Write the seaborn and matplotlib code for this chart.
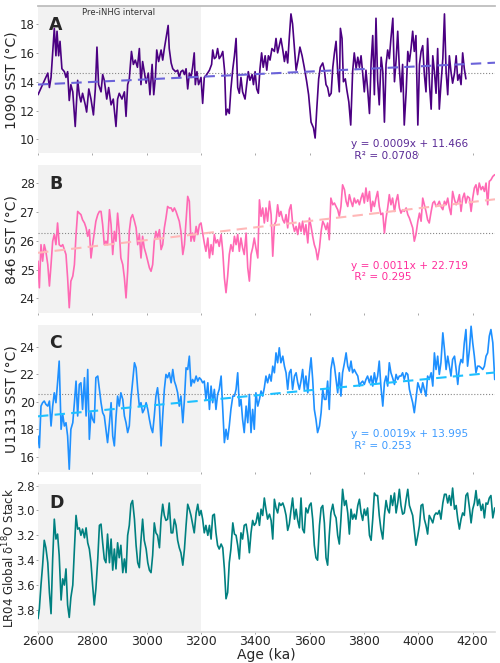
import numpy as np
import pandas as pd
import seaborn as sns
from matplotlib import pyplot as plt

# ========================================================
# values

# ODP 1090 SST, irregular sampling
age_1090 = [
    2600, 2636, 2642, 2648, 2660, 2666, 2670, 2676, 2681, 2688,
    2697, 2703, 2709, 2715, 2721, 2728, 2737, 2746, 2752, 2758,
    2764, 2774, 2779, 2787, 2795, 2804, 2811, 2817, 2823, 2832,
    2838, 2844, 2853, 2860, 2869, 2877, 2887, 2893, 2899, 2909,
    2918, 2924, 2930, 2936, 2944, 2951, 2958, 2966, 2973, 2979,
    2985, 2991, 2998, 3006, 3012, 3020, 3026, 3032, 3037, 3044,
    3053, 3059, 3065, 3071, 3079, 3083, 3090, 3096, 3106, 3114,
    3120, 3126, 3133, 3139, 3145, 3151, 3157, 3163, 3169, 3175,
    3179, 3185, 3191, 3200, 3206, 3212, 3221, 3231, 3239, 3243,
    3249, 3255, 3261, 3267, 3274, 3280, 3287, 3292, 3298, 3304,
    3310, 3317, 3323, 3329, 3335, 3341, 3347, 3353, 3362, 3368,
    3374, 3380, 3388, 3393, 3399, 3405, 3411, 3417, 3423, 3429,
    3436, 3442, 3448, 3454, 3461, 3470, 3476, 3482, 3488, 3494,
    3501, 3507, 3513, 3519, 3525, 3531, 3537, 3544, 3550, 3557,
    3564, 3572, 3580, 3589, 3596, 3605, 3614, 3620, 3626, 3633,
    3639, 3648, 3654, 3660, 3666, 3672, 3679, 3685, 3691, 3697,
    3703, 3709, 3713, 3719, 3724, 3731, 3737, 3744, 3751, 3758,
    3764, 3771, 3777, 3783, 3789, 3795, 3801, 3807, 3814, 3820,
    3826, 3832, 3838, 3844, 3850, 3856, 3863, 3869, 3875, 3881,
    3887, 3893, 3899, 3906, 3912, 3918, 3924, 3930, 3936, 3942,
    3948, 3955, 3961, 3967, 3973, 3979, 3985, 3991, 3998, 4004,
    4010, 4016, 4022, 4028, 4034, 4041, 4047, 4053, 4059, 4065,
    4071, 4077, 4083, 4090, 4096, 4102, 4108, 4114, 4120, 4126,
    4133, 4139, 4145, 4151, 4157, 4163, 4169, 4175,
]
sst_1090 = [
    13.1, 14.6, 13.6, 14.3, 17.7, 15.8, 17.5, 15.8, 16.8, 14.9,
    14.7, 14.3, 14.7, 12.7, 13.8, 13.3, 10.9, 14.1, 13.1, 12.6,
    13.2, 12.4, 11.9, 13.5, 12.8, 11.7, 13.5, 16.4, 13.8, 13.3,
    14.5, 14.1, 12.8, 13.6, 12.4, 12.8, 10.9, 12.8, 13.2, 12.8,
    13.3, 11.6, 13.8, 14.2, 16.1, 15.2, 15.5, 15.0, 16.3, 13.8,
    15.4, 14.7, 13.9, 14.6, 13.1, 15.2, 13.1, 14.3, 16.2, 15.4,
    16.2, 15.5, 16.3, 17.0, 17.9, 16.3, 15.3, 14.9, 14.7, 14.8,
    14.3, 14.7, 14.8, 14.5, 14.9, 13.5, 14.6, 14.3, 15.0, 16.0,
    13.8, 14.7, 13.8, 14.3, 12.5, 14.3, 14.5, 14.8, 15.2, 16.2,
    15.6, 15.7, 16.3, 15.6, 15.8, 16.1, 14.7, 11.7, 12.1, 11.8,
    13.5, 14.9, 15.8, 17.0, 13.6, 13.2, 14.3, 13.3, 12.8, 13.8,
    14.7, 14.1, 14.5, 13.8, 14.7, 13.5, 13.2, 14.9, 16.0, 15.0,
    15.8, 14.8, 15.8, 15.5, 16.3, 16.1, 17.0, 16.0, 16.5, 17.0,
    16.2, 15.4, 16.1, 15.3, 17.1, 18.7, 18.0, 16.3, 14.8, 15.5,
    16.4, 15.8, 15.0, 14.0, 13.1, 11.2, 10.8, 10.1, 12.1, 14.2,
    15.0, 15.3, 14.8, 13.8, 13.6, 13.0, 13.2, 15.0, 16.0, 16.8,
    14.7, 13.3, 17.7, 17.0, 14.0, 14.2, 13.4, 12.6, 11.0, 14.7,
    16.0, 14.9, 15.7, 15.0, 15.8, 14.6, 13.3, 14.8, 13.3, 11.8,
    15.3, 17.2, 13.1, 18.4, 14.1, 12.4, 15.7, 14.7, 11.2, 15.2,
    16.2, 15.6, 17.0, 18.4, 14.0, 15.5, 17.5, 14.9, 13.3, 15.2,
    11.0, 13.3, 16.1, 15.4, 16.3, 17.5, 16.1, 17.2, 11.0, 15.2,
    16.1, 16.5, 14.5, 13.3, 17.0, 13.8, 12.1, 15.8, 14.7, 13.2,
    16.3, 12.1, 13.8, 15.6, 18.7, 14.7, 13.1, 15.8, 14.7, 13.9,
    14.6, 15.8, 14.1, 14.5, 13.8, 16.0, 14.9, 14.2,
]

# common age grid for 846, U1313 and LR04
age_grid = [
    2600, 2605, 2611, 2617, 2623, 2629, 2636, 2642, 2648, 2654,
    2660, 2666, 2672, 2678, 2685, 2691, 2697, 2703, 2709, 2715,
    2721, 2728, 2734, 2740, 2746, 2752, 2758, 2764, 2771, 2777,
    2783, 2789, 2795, 2801, 2807, 2813, 2820, 2826, 2832, 2838,
    2844, 2850, 2856, 2863, 2869, 2875, 2881, 2887, 2893, 2899,
    2905, 2912, 2918, 2924, 2930, 2936, 2942, 2948, 2955, 2961,
    2967, 2973, 2979, 2985, 2991, 2998, 3004, 3010, 3016, 3022,
    3028, 3034, 3040, 3047, 3053, 3059, 3065, 3071, 3077, 3083,
    3090, 3096, 3102, 3108, 3114, 3120, 3126, 3133, 3139, 3145,
    3151, 3157, 3163, 3169, 3175, 3182, 3188, 3194, 3200, 3206,
    3212, 3218, 3225, 3231, 3237, 3243, 3249, 3255, 3261, 3267,
    3274, 3280, 3286, 3292, 3298, 3304, 3310, 3317, 3323, 3329,
    3335, 3341, 3347, 3353, 3359, 3366, 3372, 3378, 3384, 3390,
    3396, 3402, 3409, 3415, 3421, 3427, 3433, 3439, 3445, 3452,
    3458, 3464, 3470, 3476, 3482, 3488, 3494, 3501, 3507, 3513,
    3519, 3525, 3531, 3537, 3544, 3550, 3556, 3562, 3568, 3574,
    3580, 3586, 3593, 3599, 3605, 3611, 3617, 3623, 3629, 3636,
    3642, 3648, 3654, 3660, 3666, 3672, 3678, 3685, 3691, 3697,
    3703, 3709, 3715, 3721, 3728, 3734, 3740, 3746, 3752, 3758,
    3764, 3770, 3777, 3783, 3789, 3795, 3801, 3807, 3813, 3820,
    3826, 3832, 3838, 3844, 3850, 3856, 3862, 3869, 3875, 3881,
    3887, 3893, 3899, 3905, 3912, 3918, 3924, 3930, 3936, 3942,
    3948, 3955, 3961, 3967, 3973, 3979, 3985, 3991, 3998, 4004,
    4010, 4016, 4022, 4028, 4034, 4040, 4047, 4053, 4059, 4065,
    4071, 4077, 4083, 4090, 4096, 4102, 4108, 4114, 4120, 4126,
    4133, 4139, 4145, 4151, 4157, 4163, 4169, 4175, 4181, 4188,
    4194, 4200, 4206, 4212, 4218, 4224, 4231, 4237, 4243, 4249,
    4255, 4261, 4267, 4274, 4281,
]

sst_846 = [
    25.29, 24.37, 25.86, 25.29, 25.86, 25.63, 25.17, 24.43, 25.17, 25.98,
    26.21, 25.86, 26.61, 25.86, 25.80, 25.86, 25.69, 25.52, 24.71, 23.68,
    24.60, 24.77, 25.17, 26.21, 27.01, 26.95, 26.90, 26.72, 26.61, 26.44,
    26.15, 26.38, 25.40, 25.86, 26.26, 26.67, 26.90, 27.01, 27.01, 26.55,
    25.86, 25.98, 25.86, 27.07, 26.55, 25.52, 26.32, 25.98, 26.95, 26.32,
    25.40, 25.17, 24.71, 24.02, 24.94, 26.32, 26.78, 26.90, 26.67, 26.44,
    25.86, 26.21, 25.40, 26.15, 25.75, 25.52, 25.29, 25.06, 24.94, 25.17,
    25.98, 26.32, 26.09, 26.38, 25.69, 25.86, 26.44, 26.78, 27.18, 27.13,
    27.13, 27.01, 27.13, 27.01, 26.84, 26.67, 26.32, 25.52, 25.86, 26.67,
    27.53, 27.36, 25.98, 26.26, 25.98, 26.49, 26.21, 26.55, 26.61, 26.26,
    25.92, 25.63, 26.09, 25.40, 25.86, 25.52, 26.21, 25.92, 26.03, 25.80,
    26.21, 25.63, 24.71, 24.20, 24.77, 25.52, 25.86, 25.63, 26.15, 25.86,
    26.21, 25.63, 26.09, 25.75, 25.52, 26.26, 25.06, 24.60, 25.52, 25.75,
    26.09, 25.75, 25.40, 27.41, 26.84, 27.13, 26.61, 27.13, 26.67, 27.36,
    26.90, 25.46, 26.55, 26.67, 27.24, 26.84, 27.01, 26.72, 26.61, 26.90,
    26.44, 27.07, 27.24, 26.61, 26.32, 26.49, 26.21, 26.61, 26.32, 26.67,
    26.21, 26.55, 25.92, 26.78, 26.49, 26.15, 25.86, 25.69, 25.34, 25.75,
    26.32, 26.67, 26.55, 26.38, 26.61, 26.03, 27.47, 27.24, 27.30, 27.18,
    27.07, 26.84, 27.18, 27.93, 27.76, 27.36, 27.18, 27.59, 27.36, 27.18,
    27.47, 27.30, 27.41, 27.24, 27.47, 27.64, 27.30, 27.82, 27.36, 27.70,
    27.01, 27.36, 27.18, 27.47, 27.70, 27.18, 26.90, 26.95, 26.26, 26.78,
    27.13, 27.59, 27.24, 27.47, 27.01, 27.36, 27.59, 27.13, 26.95, 27.07,
    27.01, 27.13, 26.90, 26.78, 26.61, 26.44, 25.98, 26.21, 26.67, 26.95,
    26.67, 27.47, 27.24, 27.01, 26.72, 26.61, 27.01, 27.30, 27.36, 27.18,
    27.24, 27.36, 27.18, 27.07, 27.36, 27.24, 27.47, 27.13, 26.90, 27.70,
    27.41, 27.24, 27.36, 27.59, 27.01, 27.47, 27.64, 27.30, 27.53, 27.47,
    27.01, 27.47, 27.82, 27.93, 27.59, 27.99, 27.76, 27.87, 27.70, 27.99,
    27.24, 28.05, 28.10, 28.22, 28.28,
]

sst_u1313 = [
    17.50, 16.65, 19.68, 19.93, 20.05, 19.81, 19.68, 20.05, 18.23, 19.68,
    20.65, 19.93, 21.38, 22.96, 17.99, 19.08, 18.23, 18.47, 17.50, 15.08,
    17.99, 18.47, 19.93, 21.50, 18.96, 21.26, 21.38, 19.44, 21.75, 18.96,
    22.35, 17.26, 19.20, 18.72, 18.47, 21.75, 21.87, 20.90, 19.93, 19.20,
    18.96, 17.99, 17.02, 18.47, 19.93, 17.50, 16.78, 18.84, 20.41, 19.68,
    20.65, 20.17, 18.96, 18.47, 17.75, 18.23, 20.17, 21.38, 22.84, 22.47,
    20.90, 19.68, 19.93, 19.20, 19.44, 19.93, 19.44, 18.72, 18.11, 17.75,
    18.96, 20.41, 21.02, 19.68, 16.78, 18.96, 20.90, 21.99, 21.75, 22.11,
    21.38, 22.35, 21.50, 21.14, 20.65, 19.68, 20.41, 18.47, 20.17, 22.47,
    22.35, 23.32, 21.14, 21.62, 21.38, 21.87, 21.50, 21.75, 21.62, 21.38,
    21.50, 20.17, 21.38, 19.44, 21.14, 19.93, 20.90, 19.44, 20.53, 20.90,
    21.87, 19.44, 17.02, 17.99, 17.26, 18.23, 19.44, 20.41, 20.41, 20.90,
    22.11, 19.68, 20.17, 18.72, 17.75, 19.68, 18.47, 20.53, 17.75, 19.44,
    17.99, 20.65, 19.68, 20.17, 20.78, 20.41, 21.02, 21.87, 21.38, 21.99,
    21.50, 22.59, 22.11, 23.56, 22.84, 23.93, 22.84, 23.32, 22.59, 22.11,
    20.90, 22.11, 22.35, 20.90, 21.87, 22.11, 21.38, 20.90, 21.50, 22.35,
    20.90, 21.87, 20.65, 22.11, 23.20, 21.62, 19.44, 18.72, 17.75, 18.23,
    19.20, 20.90, 20.17, 20.17, 21.50, 19.44, 22.35, 23.20, 22.59, 21.62,
    20.65, 22.11, 20.41, 22.11, 22.84, 23.56, 22.59, 22.23, 22.96, 22.11,
    22.35, 22.11, 21.87, 21.14, 21.38, 21.50, 21.26, 21.62, 21.87, 21.38,
    21.87, 21.14, 22.11, 21.38, 21.87, 22.96, 21.14, 19.68, 21.38, 21.87,
    21.14, 22.84, 22.11, 21.75, 21.26, 21.99, 21.62, 21.87, 21.87, 22.11,
    21.62, 22.11, 21.99, 20.90, 20.41, 19.93, 19.20, 20.17, 21.38, 21.02,
    20.65, 21.38, 20.90, 20.41, 21.87, 21.62, 22.11, 21.14, 23.56, 22.35,
    23.32, 21.99, 22.84, 25.02, 23.81, 22.35, 23.32, 22.59, 21.87, 23.08,
    23.32, 22.35, 21.26, 22.59, 23.08, 22.84, 24.29, 25.26, 22.59, 23.81,
    25.50, 24.29, 23.32, 22.11, 22.59, 22.59, 22.47, 22.35, 22.59, 23.32,
    23.56, 24.78, 25.26, 24.29, 21.62,
]

d18o_lr04 = [
    3.87, 3.79, 3.60, 3.44, 3.24, 3.30, 3.42, 3.66, 3.83, 3.39,
    3.07, 3.23, 3.19, 3.36, 3.72, 3.55, 3.60, 3.47, 3.76, 3.86,
    3.70, 3.60, 3.31, 3.04, 3.15, 3.14, 3.20, 3.15, 3.22, 3.14,
    3.26, 3.31, 3.42, 3.60, 3.76, 3.63, 3.39, 3.12, 3.11, 3.26,
    3.39, 3.42, 3.19, 3.42, 3.23, 3.48, 3.31, 3.47, 3.26, 3.38,
    3.28, 3.50, 3.39, 3.50, 3.20, 3.12, 2.95, 2.92, 3.07, 3.28,
    3.42, 3.46, 3.24, 3.07, 3.24, 3.31, 3.42, 3.48, 3.50, 3.36,
    3.10, 3.18, 3.20, 3.30, 3.07, 2.95, 3.04, 3.08, 3.07, 2.94,
    3.18, 3.18, 3.07, 3.12, 3.24, 3.30, 3.34, 3.44, 3.31, 3.12,
    2.95, 2.99, 3.04, 3.11, 3.18, 3.02, 2.95, 3.04, 3.00, 3.07,
    3.18, 3.12, 3.20, 3.12, 3.23, 3.04, 3.03, 3.18, 3.28, 3.31,
    3.27, 3.30, 3.47, 3.71, 3.66, 3.42, 3.31, 3.10, 3.19, 3.20,
    3.28, 3.39, 3.18, 3.23, 3.12, 3.11, 3.20, 3.34, 3.18, 3.08,
    3.12, 3.10, 3.02, 3.12, 2.99, 3.04, 2.90, 2.99, 3.07, 3.03,
    3.08, 3.23, 2.91, 2.98, 3.02, 2.94, 2.96, 2.94, 2.98, 3.04,
    3.16, 3.11, 3.00, 2.90, 3.07, 2.99, 3.08, 3.14, 2.90, 3.15,
    3.18, 2.98, 3.02, 2.96, 2.94, 3.07, 3.28, 3.38, 3.40, 3.12,
    2.98, 2.96, 3.10, 3.38, 3.44, 3.20, 3.02, 2.95, 3.03, 3.06,
    3.20, 3.27, 3.07, 2.83, 2.96, 2.92, 3.02, 3.19, 2.99, 3.07,
    3.03, 3.07, 2.96, 2.91, 3.02, 3.08, 2.99, 3.04, 2.98, 3.20,
    3.24, 3.07, 2.86, 2.88, 2.88, 3.04, 3.15, 3.23, 3.04, 2.92,
    2.99, 3.02, 2.88, 2.96, 2.86, 3.02, 2.94, 2.83, 2.96, 3.03,
    3.02, 2.91, 2.83, 2.96, 3.00, 3.04, 3.16, 3.28, 3.20, 3.12,
    2.96, 2.95, 3.07, 3.12, 3.19, 3.04, 3.07, 3.10, 3.04, 3.02,
    3.03, 3.00, 3.07, 2.94, 2.87, 2.87, 2.94, 2.88, 2.96, 2.82,
    2.99, 2.96, 3.07, 3.15, 3.07, 3.02, 3.04, 2.88, 2.86, 2.98,
    3.10, 2.99, 2.94, 2.84, 2.96, 2.91, 3.00, 2.95, 3.06, 2.94,
    2.95, 2.90, 2.88, 3.06, 2.98,
]

# linear fits (slope, intercept, r2) and dotted reference levels
fit_1090 = (0.0009, 11.466, 0.0708)
fit_846 = (0.0011, 22.719, 0.295)
fit_u1313 = (0.0019, 13.995, 0.253)
ref_1090 = 14.6
ref_846 = 26.25
ref_u1313 = 20.56

# ========================================================
sns.set_theme(style="white")
plt.rcParams["font.family"] = ["DejaVu Sans"]

panels = [
    dict(letter="A", x=age_1090, y=sst_1090, color="indigo", ylabel="1090 SST (°C)",
         ylim=(9.03, 19.25), yticks=[10, 12, 14, 16, 18], fit=fit_1090, ref=ref_1090,
         fitcolor="#6b63d9", textcolor="#5a2a96", texty=10.0, lsize=10, lx=-0.042),
    dict(letter="B", x=age_grid, y=sst_846, color="hotpink", ylabel="846 SST (°C)",
         ylim=(23.5, 28.6), yticks=[24, 25, 26, 27, 28], fit=fit_846, ref=ref_846,
         fitcolor="#ffb8b8", textcolor="#ff2f9c", texty=25.3, lsize=10, lx=-0.042),
    dict(letter="C", x=age_grid, y=sst_u1313, color="dodgerblue", ylabel="U1313 SST (°C)",
         ylim=(14.85, 25.6), yticks=[16, 18, 20, 22, 24], fit=fit_u1313, ref=ref_u1313,
         fitcolor="#1ec0ff", textcolor="#3d9bff", texty=18.0, lsize=10, lx=-0.042),
    dict(letter="D", x=age_grid, y=d18o_lr04, color="teal", ylabel="LR04 Global δ$^{18}$O Stack",
         ylim=(3.976, 2.79), yticks=[2.8, 3.0, 3.2, 3.4, 3.6, 3.8], fit=None, ref=None,
         lsize=8.5, lx=-0.046),
]

fig, axes = plt.subplots(4, 1, sharex=True, figsize=(5, 6.63), dpi=100)
plt.subplots_adjust(left=0.076, right=0.99, top=0.991, bottom=0.047, hspace=0.081)

xlim = (2600, 4282)

for ax, p in zip(axes, panels):
    ax.axvspan(2600, 3200, color="#f2f2f2", zorder=0, lw=0)
    df = pd.DataFrame({"age": p["x"], "val": p["y"]})
    sns.lineplot(data=df, x="age", y="val", ax=ax, color=p["color"], lw=1.2,
                 estimator=None, zorder=3)

    if p["ref"] is not None:
        ax.axhline(p["ref"], color="#888888", ls=":", lw=0.8, zorder=2)

    if p["fit"] is not None:
        slope, icpt, r2 = p["fit"]
        fx = np.array(xlim)
        ax.plot(fx, slope * fx + icpt, ls="--", color=p["fitcolor"], lw=1.5,
                dashes=(5, 3), zorder=4)
        ax.text(3752, p["texty"], f"y = {slope}x + {icpt}\n R² = {r2}",
                color=p["textcolor"], fontsize=7.6, va="top", ha="left", zorder=5)

    ax.text(0.024, 0.935, p["letter"], transform=ax.transAxes, fontsize=12.5,
            fontweight="bold", va="top", ha="left", zorder=6)

    ax.set_xlim(*xlim)
    ax.set_ylim(*p["ylim"])
    ax.set_yticks(p["yticks"])
    ax.set_ylabel(p["ylabel"], fontsize=p["lsize"])
    ax.set_xlabel("")
    ax.tick_params(axis="y", labelsize=8.5, length=1.5, width=0.6, color="#999999",
                   left=True, pad=1)
    ax.tick_params(axis="x", labelsize=9, length=1.5, width=0.6, color="#999999",
                   bottom=True, pad=1)
    for s in ax.spines.values():
        s.set_visible(False)
    ax.yaxis.set_label_coords(p["lx"], 0.5)

axes[0].spines["top"].set_visible(True)
axes[0].spines["top"].set_color("#bbbbbb")
axes[3].spines["bottom"].set_visible(True)
axes[3].spines["bottom"].set_color("#dddddd")

axes[0].text(2898, 18.8, "Pre-iNHG interval", fontsize=6, color="#333333",
             ha="center", va="center")

axes[3].set_xticks([2600, 2800, 3000, 3200, 3400, 3600, 3800, 4000, 4200])
axes[3].set_xlabel("Age (ka)", fontsize=10, labelpad=0)

plt.savefig("out.png")
